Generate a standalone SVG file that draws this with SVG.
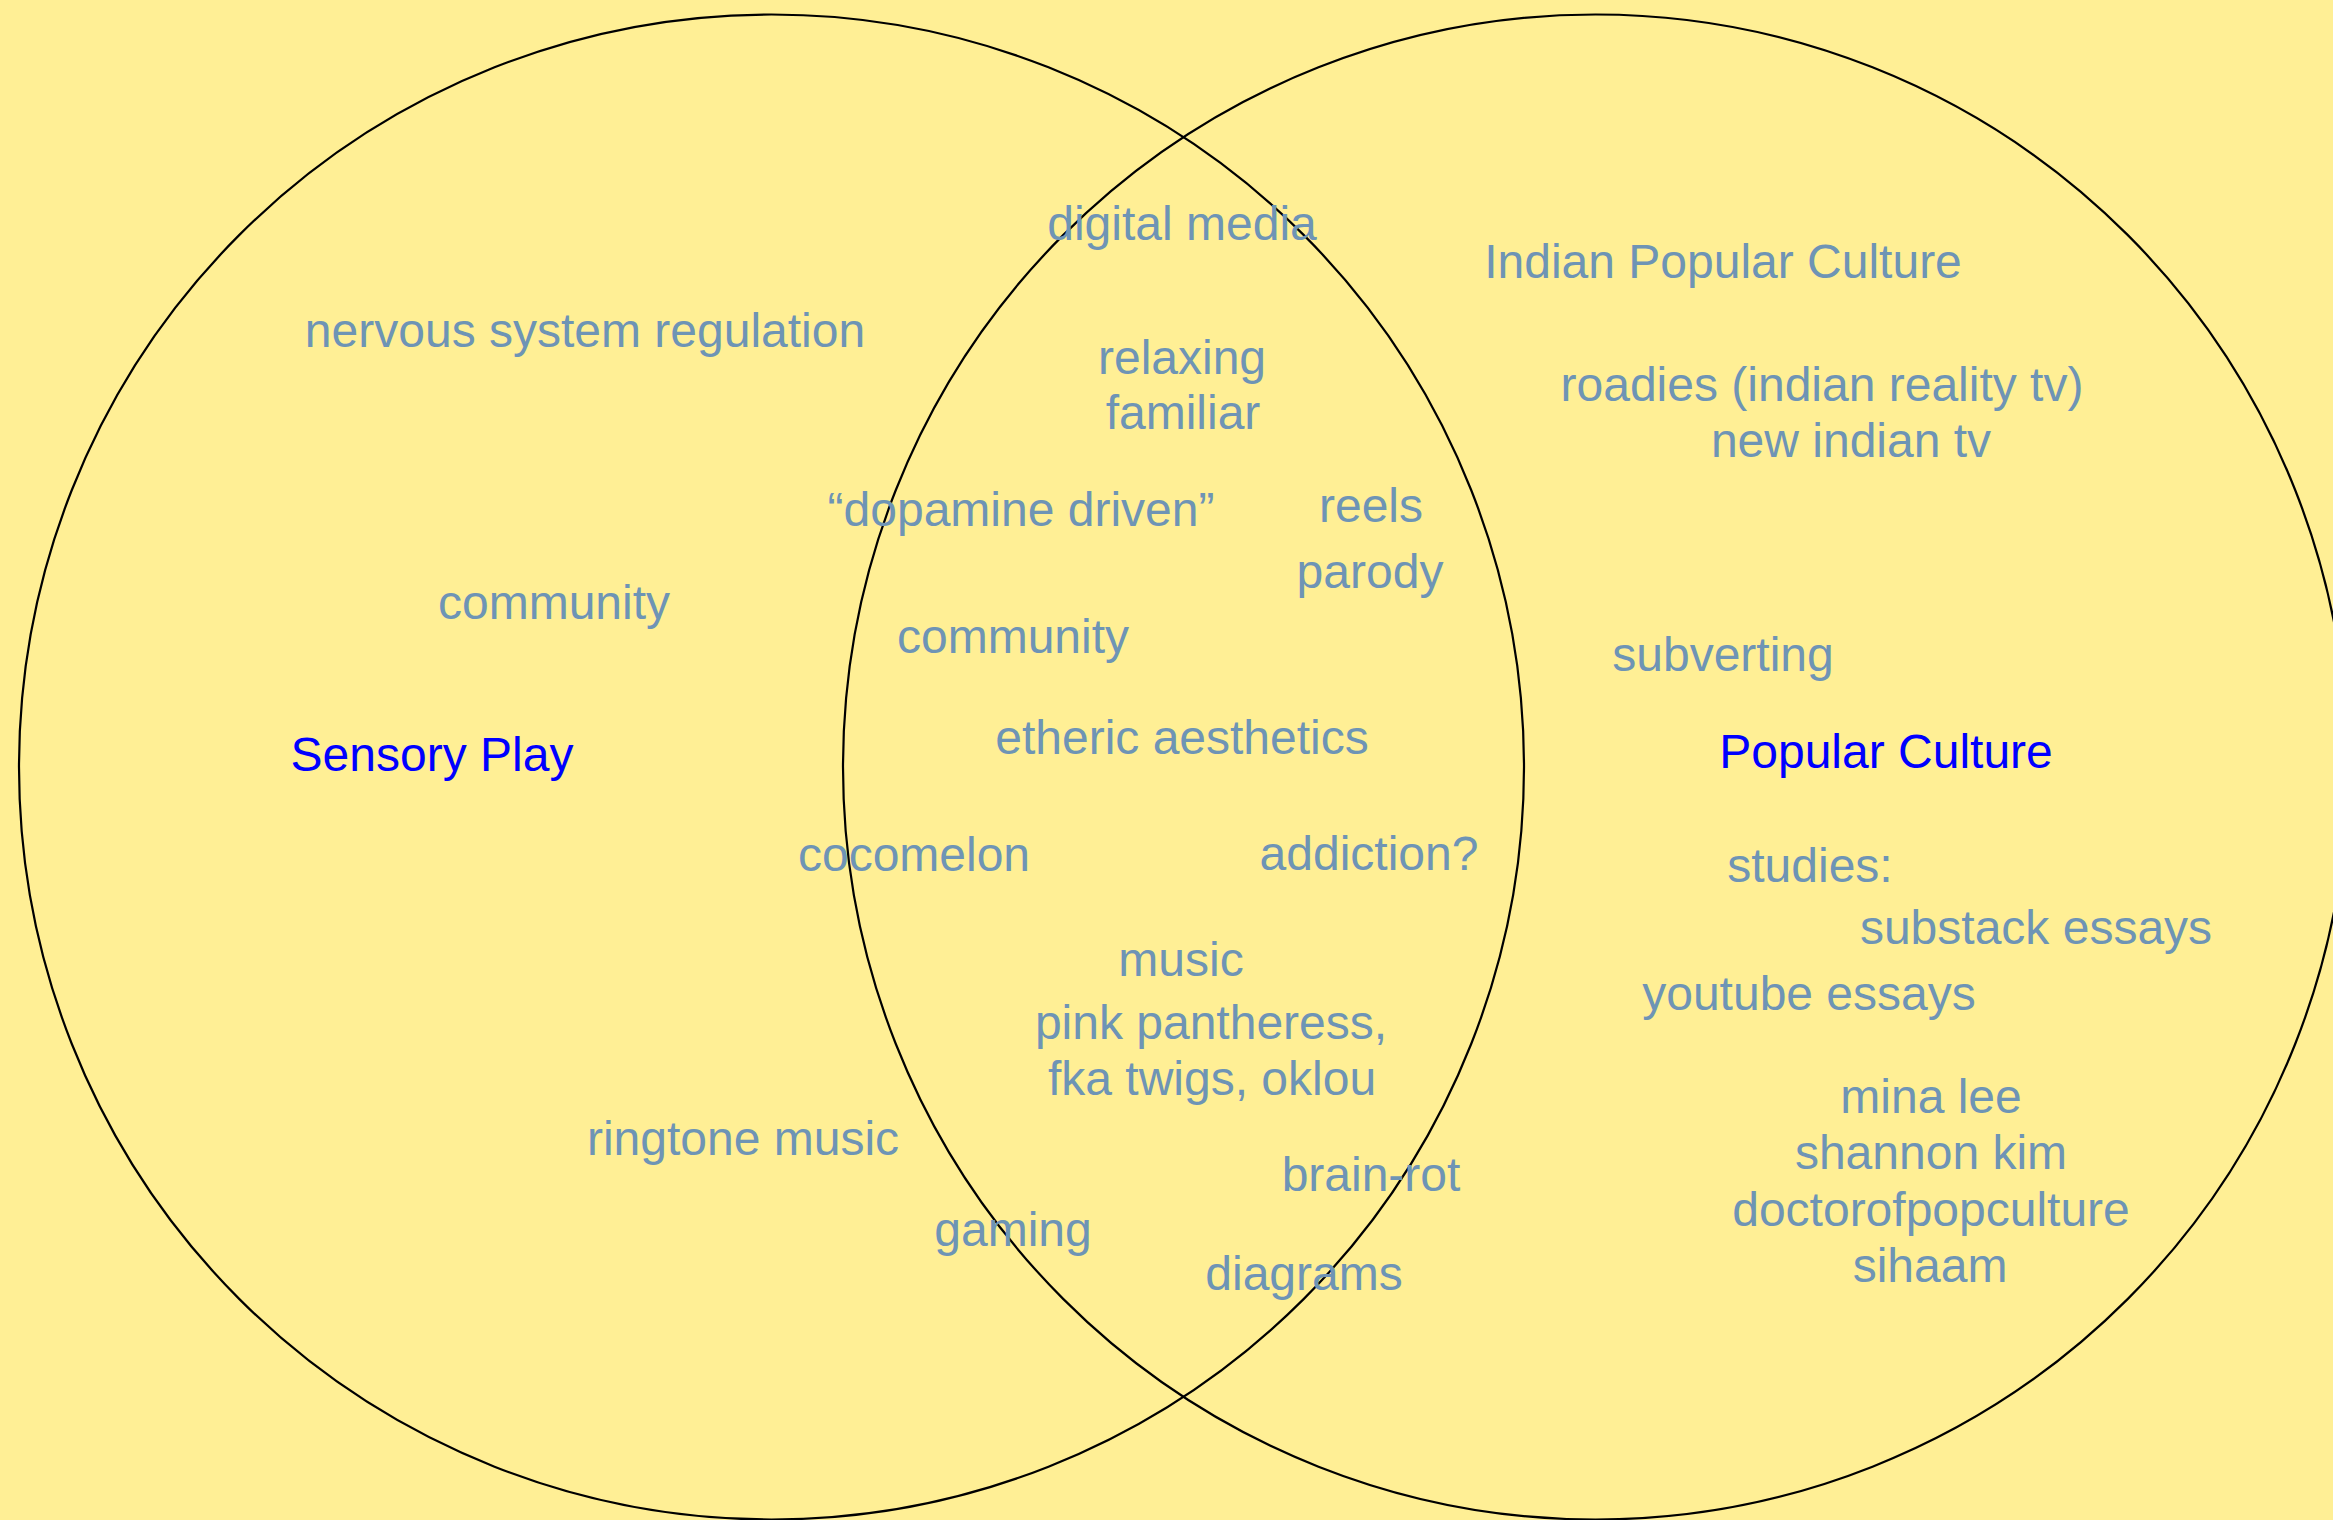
<svg xmlns="http://www.w3.org/2000/svg" width="2333" height="1520" viewBox="0 0 2333 1520">
<style>
.c{fill:none;stroke:#000;stroke-width:2.2}
text{font-family:"Liberation Sans",Arial,sans-serif;font-size:48px;text-anchor:middle}
.t{fill:#6E94B5}
.h{fill:#0000FF}
</style>
<rect width="2333" height="1520" fill="#FFEF95"/>
<g id="set-sensory-play">
<circle class="c" cx="771.5" cy="767" r="752.5"/>
<text class="h" x="432" y="771">Sensory Play</text>
</g>
<g id="set-popular-culture">
<circle class="c" cx="1595.5" cy="767" r="752.5"/>
<text class="h" x="1886" y="768">Popular Culture</text>
</g>
<g id="connectors"></g>
<g id="left-items">
<text class="t" x="585" y="347">nervous system regulation</text>
<text class="t" x="554" y="619">community</text>
<text class="t" x="743" y="1155">ringtone music</text>
</g>
<g id="overlap-items">
<text class="t" x="1182" y="240">digital media</text>
<text class="t" x="1182" y="374">relaxing</text>
<text class="t" x="1183" y="429">familiar</text>
<text class="t" x="1021" y="526">“dopamine driven”</text>
<text class="t" x="1371" y="522">reels</text>
<text class="t" x="1370" y="588">parody</text>
<text class="t" x="1013" y="653">community</text>
<text class="t" x="1182" y="754">etheric aesthetics</text>
<text class="t" x="914" y="871">cocomelon</text>
<text class="t" x="1369" y="870">addiction?</text>
<text class="t" x="1181" y="976">music</text>
<text class="t" x="1211" y="1039">pink pantheress,</text>
<text class="t" x="1212" y="1095">fka twigs, oklou</text>
<text class="t" x="1371" y="1191">brain-rot</text>
<text class="t" x="1013" y="1246">gaming</text>
<text class="t" x="1304" y="1290">diagrams</text>
</g>
<g id="right-items">
<text class="t" x="1723" y="278">Indian Popular Culture</text>
<text class="t" x="1822" y="401">roadies (indian reality tv)</text>
<text class="t" x="1851" y="457">new indian tv</text>
<text class="t" x="1723" y="671">subverting</text>
<text class="t" x="1810" y="882">studies:</text>
<text class="t" x="2036" y="944">substack essays</text>
<text class="t" x="1809" y="1010">youtube essays</text>
<text class="t" x="1931" y="1113">mina lee</text>
<text class="t" x="1931" y="1169">shannon kim</text>
<text class="t" x="1931" y="1226">doctorofpopculture</text>
<text class="t" x="1930" y="1282">sihaam</text>
</g>
</svg>
